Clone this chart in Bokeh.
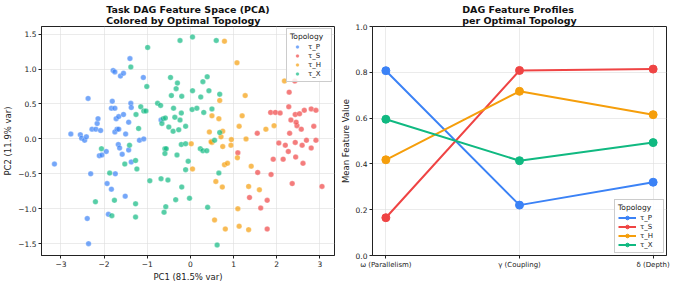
from bokeh.plotting import figure
from bokeh.layouts import row
from bokeh.models import Range1d, FixedTicker, Legend, LegendItem, CustomJSTickFormatter
from bokeh.embed import file_html
from bokeh.resources import INLINE

FONT = "DejaVu Sans"

topologies = ["τ_P", "τ_S", "τ_H", "τ_X"]
colors = ["#3B82F6", "#EF4444", "#F59E0B", "#10B981"]

# ---- PCA scatter data ----
p_x = [-2.77, -2.55, -2.52, -2.45, -2.41, -2.37, -2.28, -2.19, -2.16, -2.14, -2.08, -1.81, -1.83, -1.75,
       -1.79, -1.75, -1.72, -1.75, -1.70, -1.66, -1.66, -1.62, -1.55, -1.55, -1.50, -1.43, -1.40, -1.38,
       -1.37, -1.09, -1.18, -1.08, -0.68, -3.15, -1.67, -1.64, -1.95, -2.11, -2.05, -1.58, -1.43, -1.37,
       -2.31, -1.74, -1.93, -1.83, -1.51, -1.90, -2.39, -2.36]
p_y = [0.07, 0.06, 0.01, -0.02, 0.03, 0.58, 0.14, 0.14, 0.22, 0.29, 0.12, 0.54, 0.44, 0.44,
       0.98, 0.96, 0.29, 0.10, 0.14, 0.14, 0.32, 0.90, 0.94, 0.35, 0.07, 0.24, 1.15, 0.51,
       0.45, 0.88, -0.02, 0.00, 0.27, -0.36, -0.08, -0.13, -0.18, -0.24, -0.23, -0.22, -0.16, -0.33,
       -0.50, -0.50, -0.64, -0.72, -0.82, -1.08, -1.14, -1.50]

s_x = [2.42, 2.29, 1.86, 1.97, 2.08, 2.28, 2.43, 2.53, 2.64, 2.80, 2.91, 2.33, 2.47, 2.45, 2.57, 2.86,
       1.55, 2.30, 2.05, 2.20, 2.43, 2.59, 2.69, 2.91, 2.80, 2.27, 1.10, 2.44, 1.92, 2.15, 2.61, 1.56,
       1.87, 2.36, 3.05, 1.37, 1.78, 1.63, 1.78]
s_y = [0.83, 0.67, 0.38, 0.38, 0.37, 0.46, 0.35, 0.36, 0.41, 0.43, 0.41, 0.27, 0.19, 0.24, 0.14, 0.18,
       0.08, 0.08, -0.06, -0.09, -0.05, -0.09, -0.02, -0.02, -0.13, -0.18, -0.20, -0.26, -0.29, -0.29,
       -0.35, -0.48, -0.51, -0.64, -0.68, -0.84, -0.88, -0.99, -1.29]

h_x = [0.79, 1.08, 1.27, 0.68, 0.50, 0.66, 0.44, 0.75, 0.71, 0.50, 0.02, 1.20, 1.13, 1.29, 0.95, 0.94,
       0.75, 1.75, 1.94, 2.18, 0.48, 0.05, 0.79, 0.86, 1.09, 1.41, 0.59, 0.74, 1.35, 1.60, 1.10, 0.56,
       0.81, 1.13, 1.35]
h_y = [1.40, 1.09, 0.62, 0.55, 0.33, 0.29, 0.10, 0.11, 0.03, -0.05, -0.07, 0.33, 0.18, 0.00, -0.01, -0.09,
       -0.11, 0.14, 0.19, 0.83, -0.04, -0.43, -0.37, -0.35, -0.27, -0.39, -0.61, -0.69, -0.68, -0.73, -1.00,
       -1.16, -1.29, -1.25, -1.30]

x_x = [-0.99, -1.38, -1.01, -1.15, -1.08, -1.03, -1.26, -1.20, -1.41, -0.76, -0.69, -0.66, -0.63, -0.58,
       -0.46, -0.44, -0.39, -0.36, -0.33, -0.30, -0.24, -0.21, -0.20, -0.50, -0.40, -0.27, -0.11, -0.24,
       0.05, 0.60, 0.05, 0.04, 0.15, 0.24, 0.29, 0.39, 0.31, 0.43, 0.50, 0.68, 0.68, 0.56, -0.21, -0.11,
       0.23, -2.06, -1.52, -1.27, -1.24, -1.87, -2.20, -1.76, -1.27, -1.82, -1.27, -0.94, -0.68, -0.52,
       -0.59, -0.56, -0.59, -0.31, -0.05, -0.11, -0.20, -0.34, -0.57, -0.61, -0.02, 0.29, 0.38, 0.66,
       0.40, 0.62]
x_y = [1.31, 1.03, 0.75, 0.46, 0.40, 0.40, 0.35, 0.15, -0.09, 0.51, 0.48, 0.22, 0.29, 0.30,
       0.88, 0.62, 0.44, 0.31, 0.72, 0.80, 0.27, 0.37, 0.61, 0.17, 0.11, 0.13, 0.18, 1.41,
       1.46, 1.41, 0.69, 0.42, 0.44, 0.60, 0.82, 0.89, 0.38, 0.69, 0.43, 0.64, 0.09, -0.02, -0.08, -0.07,
       -0.14, -0.14, -0.36, -0.31, -0.43, -0.49, -0.90, -0.88, -0.93, -1.10, -1.12, -0.60, -0.57, -0.59,
       -0.14, -0.14, -0.21, -0.23, -0.32, -0.44, -0.69, -0.87, -0.97, -1.05, -0.85, -0.17, -0.17, -0.49,
       -0.98, -1.52]

scatter_x = [p_x, s_x, h_x, x_x]
scatter_y = [p_y, s_y, h_y, x_y]

# ---- Feature profile data ----
features = ["ω (Parallelism)", "γ (Coupling)", "δ (Depth)"]
feat_pos = [0, 1, 2]
profile_P = [0.807, 0.220, 0.320]
profile_S = [0.165, 0.808, 0.814]
profile_H = [0.418, 0.717, 0.615]
profile_X = [0.595, 0.414, 0.493]
profiles = [profile_P, profile_S, profile_H, profile_X]

fmt1 = CustomJSTickFormatter(code="return tick.toFixed(1).replace('-', '\u2212');")
fmt0 = CustomJSTickFormatter(code="return tick.toFixed(0).replace('-', '\u2212');")


def style(p):
    p.title.text_font = FONT
    p.title.text_font_size = "9.5px"
    p.title.text_font_style = "bold"
    p.title.align = "center"
    p.title.text_color = "#111111"
    p.title.text_line_height = 1.0
    p.title.standoff = 1
    p.title.offset = 0
    p.outline_line_color = "#222222"
    p.outline_line_width = 1
    p.outline_line_alpha = 1
    for ax in (p.xaxis[0], p.yaxis[0]):
        ax.major_label_text_font = FONT
        ax.major_label_text_font_size = "7.5px"
        ax.major_label_text_color = "#222222"
        ax.axis_label_text_font = FONT
        ax.axis_label_text_font_size = "8.5px"
        ax.axis_label_text_font_style = "normal"
        ax.axis_label_text_color = "#222222"
        ax.minor_tick_line_color = None
        ax.major_tick_out = 3
        ax.major_tick_in = 0
        ax.axis_line_color = "#222222"
        ax.major_tick_line_color = "#222222"
        ax.axis_label_standoff = 2
        ax.major_label_standoff = 2
    p.xgrid.grid_line_color = "#dddddd"
    p.ygrid.grid_line_color = "#dddddd"
    p.xgrid.grid_line_alpha = 0.6
    p.ygrid.grid_line_alpha = 0.6


def make_legend(items, loc, gw):
    return Legend(items=items, location=loc, title="Topology",
                  title_text_font=FONT, title_text_font_size="7.5px", title_text_font_style="normal",
                  title_standoff=1, title_text_color="#222222",
                  label_text_font=FONT, label_text_font_size="7px", label_text_color="#222222",
                  label_height=9, glyph_height=9, glyph_width=gw, spacing=0, label_standoff=4,
                  padding=3, margin=2, border_line_color="#cccccc", border_line_alpha=1,
                  background_fill_alpha=0.85)


# ---- Left: PCA scatter ----
p1 = figure(width=337, height=284, output_backend="svg", toolbar_location=None,
            title="Task DAG Feature Space (PCA)\nColored by Optimal Topology",
            x_range=Range1d(-3.45, 3.34), y_range=Range1d(-1.67, 1.61),
            min_border_left=37, min_border_right=3, min_border_top=26, min_border_bottom=28)
style(p1)
p1.xaxis.axis_label = "PC1 (81.5% var)"
p1.yaxis.axis_label = "PC2 (11.9% var)"
p1.xaxis.ticker = FixedTicker(ticks=[-3, -2, -1, 0, 1, 2, 3])
p1.yaxis.ticker = FixedTicker(ticks=[-1.5, -1.0, -0.5, 0.0, 0.5, 1.0, 1.5])
p1.xaxis.formatter = fmt0
p1.yaxis.formatter = fmt1

items1 = []
for name, col, xs, ys in zip(topologies, colors, scatter_x, scatter_y):
    r = p1.scatter(xs, ys, size=5.5, fill_color=col, fill_alpha=0.7,
                   line_color="white", line_width=0.4, line_alpha=0.7)
    items1.append(LegendItem(label=name, renderers=[r]))
p1.add_layout(make_legend(items1, "top_right", 14))

# ---- Right: feature profiles ----
p2 = figure(width=337, height=284, output_backend="svg", toolbar_location=None,
            title="DAG Feature Profiles\nper Optimal Topology",
            x_range=Range1d(-0.1, 2.1), y_range=Range1d(0.0, 1.0),
            min_border_left=32, min_border_right=8, min_border_top=26, min_border_bottom=28)
style(p2)
p2.yaxis.axis_label = "Mean Feature Value"
p2.xaxis.ticker = FixedTicker(ticks=feat_pos)
p2.xaxis.major_label_overrides = {i: f for i, f in zip(feat_pos, features)}
p2.xaxis.major_label_text_font_size = "7px"
p2.yaxis.ticker = FixedTicker(ticks=[0.0, 0.2, 0.4, 0.6, 0.8, 1.0])
p2.yaxis.formatter = fmt1

items2 = []
for name, col, vals in zip(topologies, colors, profiles):
    l = p2.line(feat_pos, vals, line_color=col, line_width=2)
    m = p2.scatter(feat_pos, vals, size=8, fill_color=col, line_color=col)
    items2.append(LegendItem(label=name, renderers=[l, m]))
p2.add_layout(make_legend(items2, "bottom_right", 18))

layout = row(p1, p2)
open("out.html", "w").write(file_html(layout, INLINE))
